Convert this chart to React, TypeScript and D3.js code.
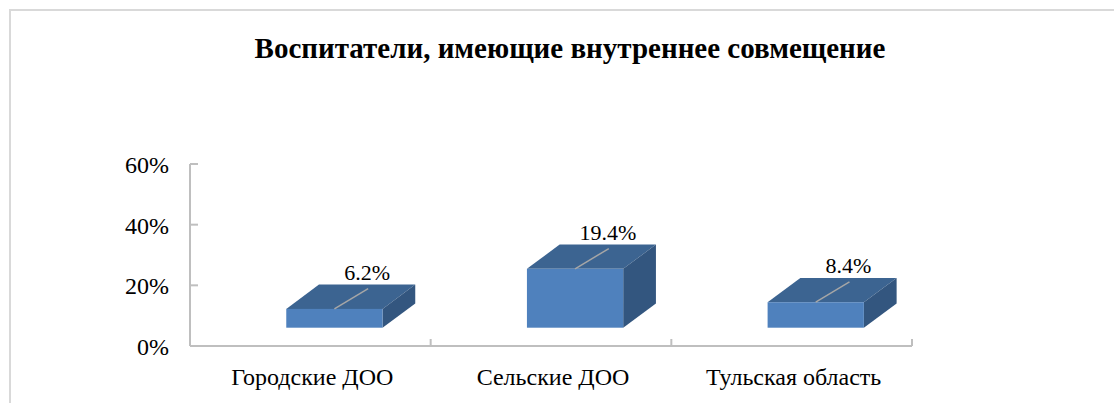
import React from "react";
import * as d3 from "d3";

const title = "Воспитатели, имеющие внутреннее совмещение";
const categories = ["Городские ДОО", "Сельские ДОО", "Тульская область"];
const values = [6.2, 19.4, 8.4];
const yTicks = [0, 20, 40, 60];

const W = 1114;
const H = 403;
const FONT = "'Liberation Serif', 'Times New Roman', Times, serif";

export default function App() {
  const x = d3.scaleBand<string>().domain(categories).range([190, 912]).padding(0);
  const y = d3.scaleLinear().domain([0, 60]).range([346, 164]);
  const bw = x.bandwidth();
  const depthX = bw * 0.136;
  const depthY = -24.3;
  const floorY = y(0) - 18.3;
  const unit = y(0) - y(1);
  const fmt = (v: number) => d3.format(".1f")(v) + "%";

  return (
    <svg
      width={W}
      height={H}
      style={{ position: "absolute", left: 0, top: 0, background: "#fff" }}
      fontFamily={FONT}
    >
      <rect x={10} y={10} width={1200} height={500} fill="#fff" stroke="#d9d9d9" strokeWidth={2} />
      <text x={570} y={57.5} textAnchor="middle" fontSize={29} fontWeight="bold" fill="#000">
        {title}
      </text>

      {/* Y axis */}
      <line x1={190} x2={190} y1={y(60)} y2={y(0)} stroke="#bfbfbf" strokeWidth={2} />
      {yTicks.map((t) => (
        <g key={t}>
          <line x1={190} x2={198} y1={y(t)} y2={y(t)} stroke="#bfbfbf" strokeWidth={2} />
          <text x={169} y={y(t) + 9} textAnchor="end" fontSize={24} fill="#000">
            {t + "%"}
          </text>
        </g>
      ))}

      {/* X axis */}
      <line x1={190} x2={912} y1={y(0)} y2={y(0)} stroke="#bfbfbf" strokeWidth={2} />
      {categories.map((c) => (
        <line
          key={"t" + c}
          x1={(x(c) as number) + bw}
          x2={(x(c) as number) + bw}
          y1={y(0)}
          y2={y(0) - 7}
          stroke="#bfbfbf"
          strokeWidth={2}
        />
      ))}
      {categories.map((c) => (
        <text
          key={"l" + c}
          x={(x(c) as number) + bw / 2 + 2}
          y={385}
          textAnchor="middle"
          fontSize={24}
          fill="#000"
        >
          {c}
        </text>
      ))}

      {/* Bars */}
      {categories.map((c, i) => {
        const v = values[i];
        const x0 = (x(c) as number) + bw * 0.4;
        const x1 = x0 + bw * 0.4;
        const yTop = floorY - v * unit;
        const yBot = floorY;
        const top = [
          [x0, yTop],
          [x1, yTop],
          [x1 + depthX, yTop + depthY],
          [x0 + depthX, yTop + depthY],
        ];
        const side = [
          [x1, yTop],
          [x1 + depthX, yTop + depthY],
          [x1 + depthX, yBot + depthY],
          [x1, yBot],
        ];
        const pts = (p: number[][]) => p.map((q) => q.join(",")).join(" ");
        const labelX = (x0 + x1) / 2 + depthX;
        const labelY = yTop + depthY - 5;
        return (
          <g key={"b" + c}>
            <polygon points={pts(top)} fill="#3c6491" />
            <polygon points={pts(side)} fill="#33567f" />
            <rect x={x0} y={yTop} width={x1 - x0} height={yBot - yTop} fill="#4f81bd" />
            <line
              x1={(x0 + x1) / 2}
              y1={yTop}
              x2={labelX + 1}
              y2={labelY + 9}
              stroke="#a6a6a6"
              strokeWidth={1.5}
            />
            <text x={labelX} y={labelY} textAnchor="middle" fontSize={22} fill="#000">
              {fmt(v)}
            </text>
          </g>
        );
      })}
    </svg>
  );
}
